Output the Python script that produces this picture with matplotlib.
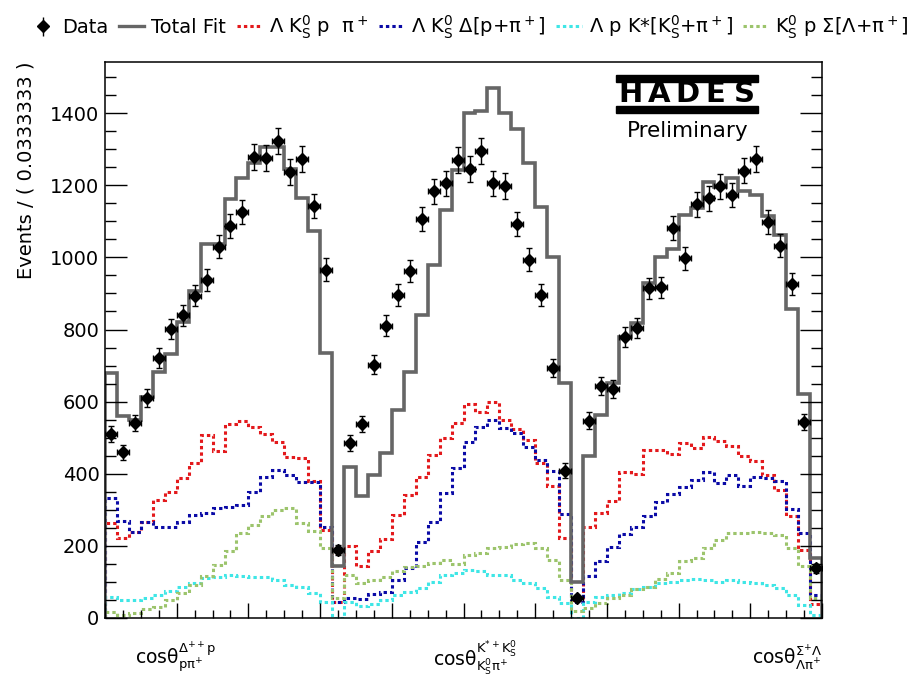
import numpy as np
import matplotlib
matplotlib.use("Agg")
import matplotlib.pyplot as plt
from matplotlib.patches import Rectangle
from matplotlib.lines import Line2D
from matplotlib.ticker import MultipleLocator

plt.rcParams["font.family"] = ["DejaVu Sans"]
plt.rcParams["mathtext.default"] = "regular"

# 60 bins of 0.0333 on [0, 2]: three angular distributions of 20 bins each
n_bins = 60
bin_width = 2.0 / n_bins

data = [510, 460, 541, 610, 721, 801, 839, 894, 938, 1029, 1086, 1126, 1279, 1275, 1324, 1237, 1273, 1142, 966, 189,
        485, 538, 702, 811, 896, 963, 1106, 1183, 1206, 1270, 1245, 1296, 1206, 1198, 1093, 993, 896, 693, 409, 56,
        547, 644, 635, 780, 804, 914, 917, 1081, 998, 1147, 1164, 1197, 1173, 1241, 1273, 1098, 1033, 926, 543, 138]
data_err = [23, 21, 23, 25, 27, 28, 29, 30, 31, 32, 33, 34, 36, 36, 36, 35, 36, 34, 31, 14,
            22, 23, 26, 28, 30, 31, 33, 34, 35, 36, 35, 36, 35, 35, 33, 32, 30, 26, 20, 8,
            23, 25, 25, 28, 28, 30, 30, 33, 32, 34, 34, 35, 34, 35, 36, 33, 32, 30, 23, 12]
total_fit = [679, 560, 549, 614, 681, 733, 820, 908, 1036, 1036, 1161, 1221, 1263, 1307, 1307, 1245, 1164, 1073, 734, 145,
             420, 337, 397, 457, 577, 683, 840, 979, 1132, 1243, 1400, 1407, 1469, 1400, 1356, 1261, 1141, 1001, 653, 100,
             450, 563, 653, 780, 817, 930, 1001, 1023, 1118, 1136, 1210, 1196, 1220, 1185, 1173, 1116, 1062, 856, 621, 166]
lk0ppi = [263, 221, 239, 267, 327, 350, 389, 429, 508, 464, 538, 546, 529, 510, 489, 446, 443, 381, 243, 45,
          200, 145, 187, 218, 286, 341, 390, 452, 500, 540, 593, 572, 600, 549, 523, 494, 429, 367, 221, 50,
          253, 292, 325, 406, 398, 466, 466, 455, 485, 471, 501, 492, 477, 450, 436, 397, 355, 283, 189, 40]
lk0delta = [334, 269, 239, 267, 253, 253, 267, 286, 290, 304, 309, 313, 350, 392, 411, 397, 376, 378, 253, 45,
            55, 52, 66, 71, 104, 138, 212, 267, 346, 415, 489, 529, 549, 526, 514, 475, 438, 409, 288, 45,
            117, 159, 198, 232, 253, 284, 323, 344, 362, 383, 404, 375, 397, 366, 392, 389, 380, 301, 235, 65]
lpkstar = [57, 50, 50, 55, 64, 76, 87, 98, 110, 115, 119, 117, 113, 113, 104, 92, 85, 70, 45, 0,
           45, 34, 39, 50, 64, 73, 82, 101, 119, 124, 133, 129, 119, 119, 105, 96, 82, 59, 41, 0,
           45, 59, 64, 68, 80, 87, 96, 101, 105, 107, 104, 101, 105, 101, 96, 92, 82, 64, 36, 8]
k0psigma = [18, 8, 15, 24, 31, 50, 68, 92, 117, 147, 186, 235, 258, 283, 300, 306, 263, 241, 193, 55,
            119, 96, 104, 115, 129, 141, 144, 153, 161, 150, 175, 179, 193, 198, 205, 207, 195, 160, 105, 20,
            27, 41, 55, 64, 80, 87, 107, 124, 159, 166, 193, 216, 235, 235, 239, 237, 230, 195, 144, 55]

labels = ["Data", "Total Fit",
          r"Λ $K^0_S$ p  π$^+$",
          r"Λ $K^0_S$ Δ[p+π$^+$]",
          r"Λ p K*[$K^0_S$+π$^+$]",
          r"$K^0_S$ p Σ[Λ+π$^+$]"]
x_titles = [r"cos$\theta^{\Delta^{++}p}_{p\pi^{+}}$",
            r"cos$\theta^{K^{*+}K^{0}_{S}}_{K^{0}_{S}\pi^{+}}$",
            r"cos$\theta^{\Sigma^{+}\Lambda}_{\Lambda\pi^{+}}$"]

edges = np.arange(n_bins + 1) * bin_width
centers = edges[:-1] + bin_width / 2

fig = plt.figure(figsize=(9.14, 6.78), dpi=100)
ax = fig.add_axes([0.1149, 0.0885, 0.7845, 0.8201])

dotted = (0, (1.1, 1.0))
components = [(lk0ppi, "#e3191c"), (lk0delta, "#0a0aa6"),
              (lpkstar, "#3fe6e6"), (k0psigma, "#9cc46c")]
comp_handles = []
for vals, col in components:
    ax.stairs(vals, edges, baseline=0, color=col, lw=2.2, linestyle=dotted)
    comp_handles.append(Line2D([], [], color=col, lw=2.2, linestyle=dotted))

ax.stairs(total_fit, edges, baseline=0, color="#666666", lw=2.6)
fit_handle = Line2D([], [], color="#666666", lw=2.4)

ax.errorbar(centers, data, xerr=bin_width / 2, yerr=data_err, fmt="D", ms=6.5,
            color="black", ecolor="black", elinewidth=1, capsize=2.5, capthick=1, zorder=5)
data_handle = ax.errorbar([], [], yerr=[], fmt="D", ms=6, color="black",
                          elinewidth=1, capsize=3, capthick=1)

ax.set_xlim(0, 2)
ax.set_ylim(0, 1542)
ax.xaxis.set_major_locator(MultipleLocator(0.2))
ax.xaxis.set_minor_locator(MultipleLocator(0.05))
ax.yaxis.set_major_locator(MultipleLocator(200))
ax.yaxis.set_minor_locator(MultipleLocator(50))
ax.tick_params(axis="x", which="both", direction="in", top=False, labelbottom=False, width=1)
ax.tick_params(axis="x", which="major", length=11)
ax.tick_params(axis="x", which="minor", length=5.5)
ax.tick_params(axis="y", which="both", direction="in", left=True, right=True, width=1,
               labelsize=14, pad=4)
ax.tick_params(axis="y", which="major", length=16)
ax.tick_params(axis="y", which="minor", length=8)
for sp in ax.spines.values():
    sp.set_linewidth(1.1)

ax.set_ylabel("Events / ( 0.0333333 )", fontsize=14, loc="top")
ax.yaxis.set_label_coords(-0.097, 1.0)

for xt, xpos in zip(x_titles, [0.099, 0.516, 0.951]):
    ax.text(xpos, -0.071, xt, transform=ax.transAxes, ha="center", va="center", fontsize=13.5)

# HADES logo
ax.add_patch(Rectangle((0.713, 0.964), 0.198, 0.012, transform=ax.transAxes,
                       color="black", clip_on=False))
ax.add_patch(Rectangle((0.713, 0.909), 0.198, 0.012, transform=ax.transAxes,
                       color="black", clip_on=False))
for k, letter in enumerate("HADES"):
    ax.text(0.733 + 0.0396 * k, 0.942, letter, transform=ax.transAxes, ha="center",
            va="center", fontsize=21, fontweight="bold")
ax.text(0.813, 0.876, "Preliminary", transform=ax.transAxes, ha="center", va="center",
        fontsize=15.5)

handles = [data_handle, fit_handle] + comp_handles
fig.legend(handles, labels, loc="center left", bbox_to_anchor=(0.033, 0.96), ncol=6,
           frameon=False, fontsize=14, handlelength=1.3, handletextpad=0.35,
           columnspacing=0.55, borderpad=0, borderaxespad=0)

fig.savefig("out.png", dpi=100)
